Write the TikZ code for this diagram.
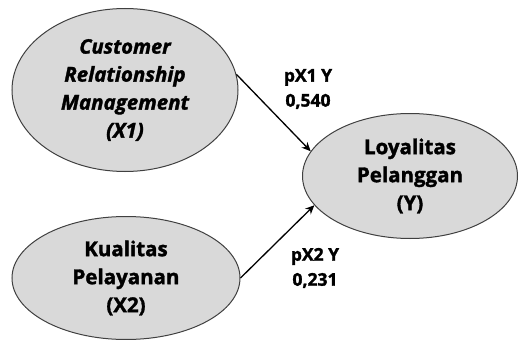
\documentclass[tikz,border=0pt]{standalone}
\usepackage{fontspec}
\setmainfont{Open Sans}[BoldFeatures = {FakeBold = 1.6}, BoldItalicFeatures = {FakeBold = 1.6}]
\usetikzlibrary{arrows.meta, shapes.geometric}

\begin{document}
\begin{tikzpicture}[x = 1pt, y = -1pt,
        var/.style = {ellipse, draw = black!75, line width = 1pt, fill = gray!30, align = center, inner sep = 0pt, font = \fontsize{20.5}{28}\selectfont\bfseries},
        path/.style = {-{Stealth[length = 9pt, width = 8pt]}, line width = 1.3pt},
        coef/.style = {align = center, font = \fontsize{17.5}{25}\selectfont\bfseries}]
        \useasboundingbox (0,0) rectangle (520,340);
        \node[var, minimum width = 226pt, minimum height = 163pt] (crm) at (125,90) {\fontsize{20}{27.5}\selectfont\itshape Customer\\\itshape Relationship\\\itshape Management\\\itshape (X1)};
        \node[var, minimum width = 228pt, minimum height = 123pt] (kp) at (126,278) {Kualitas\\Pelayanan\\(X2)};
        \node[var, minimum width = 215pt, minimum height = 125pt] (ly) at (410,176) {Loyalitas\\Pelanggan\\(Y)};

        \draw[path] (crm.8) -- (ly.166);
        \draw[path] (kp.0) -- (ly.197);

        \node[coef] (p1) at (308,89) {pX1 Y\\0,540};
        \node[coef] (p2) at (315,268) {pX2 Y\\0,231};
    \end{tikzpicture}
\end{document}
